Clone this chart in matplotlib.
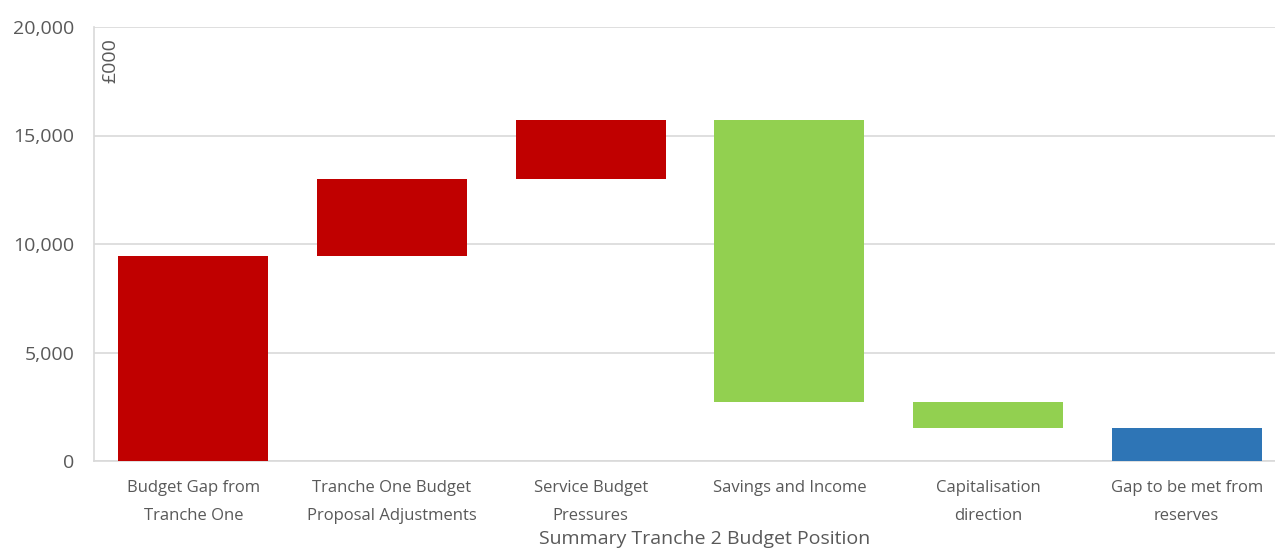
import numpy as np
import matplotlib
matplotlib.use("Agg")
import matplotlib.pyplot as plt

# waterfall data, £000
categories = ["Budget Gap from\nTranche One", "Tranche One Budget\nProposal Adjustments",
              "Service Budget\nPressures", "Savings and Income",
              "Capitalisation\ndirection", "Gap to be met from\nreserves"]
changes = [9450, 3550, 2700, -13000, -1200]
colors = ["#C00000", "#C00000", "#C00000", "#92D050", "#92D050", "#2E75B6"]
y_ticks = [0, 5000, 10000, 15000, 20000]

plt.rcParams["font.family"] = ["Open Sans", "DejaVu Sans"]

ends = np.cumsum(changes)
starts = ends - np.array(changes)
bottoms = list(np.minimum(starts, ends)) + [0]
heights = list(np.abs(changes)) + [ends[-1]]

fig = plt.figure(figsize=(12.75, 5.5), dpi=100)
ax = fig.add_axes([94 / 1275, 89 / 550, 1192 / 1275, 434 / 550])

x = np.arange(len(categories))
ax.bar(x, heights, bottom=bottoms, width=0.755, color=colors, zorder=3)

ax.set_xlim(-0.5, len(categories) - 0.5)
ax.set_ylim(0, 20000)
ax.set_yticks(y_ticks)
ax.set_yticklabels([f"{v:,}" for v in y_ticks])
ax.set_xticks(x)
ax.set_xticklabels(categories, linespacing=2.0)
ax.tick_params(axis="both", length=0, colors="#595959")
ax.tick_params(axis="y", pad=14, labelsize=14)
ax.tick_params(axis="x", pad=14, labelsize=12)
ax.grid(axis="y", color="#d9d9d9", linewidth=1.2, zorder=0)
for s in ["top", "right"]:
    ax.spines[s].set_visible(False)
for s in ["left", "bottom"]:
    ax.spines[s].set_color("#d9d9d9")
    ax.spines[s].set_linewidth(1.2)

ax.text(0.006, 0.975, "£000", rotation=90, transform=ax.transAxes, ha="left", va="top",
        fontsize=14, color="#595959")
fig.text(705 / 1275, 2 / 550, "Summary Tranche 2 Budget Position", ha="center", va="bottom",
         fontsize=14, color="#595959")

fig.savefig("out.png", dpi=100)
